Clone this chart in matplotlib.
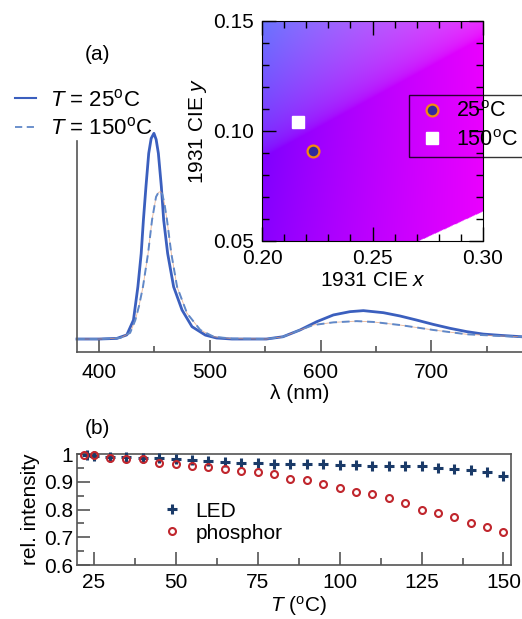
import numpy as np
import matplotlib
matplotlib.use('Agg')
import matplotlib.pyplot as plt
from matplotlib.ticker import MultipleLocator
from matplotlib.lines import Line2D

plt.rcParams['font.family'] = ['Liberation Sans', 'DejaVu Sans']
plt.rcParams['mathtext.fontset'] = 'custom'
plt.rcParams['mathtext.rm'] = 'Liberation Sans'
plt.rcParams['mathtext.it'] = 'Liberation Sans:italic'
plt.rcParams['font.size'] = 15

# ---- spectra (arb. units, peak of 25C = 1)
wl_25 = [380, 400, 416, 425, 431, 435, 438, 440, 442.3, 444.8, 447, 449.5, 451.5,
         453.5, 456.2, 458.3, 461.9, 467.3, 474.9, 483.9, 496, 506, 520, 551, 566,
         581.5, 596.5, 611.6, 626.6, 638.7, 656.8, 671.8, 686.9, 701.9, 717, 732,
         747, 762, 782]
int_25 = [0.0, 0.0, 0.003, 0.02, 0.092, 0.254, 0.416, 0.579, 0.741, 0.903, 0.975, 1.0,
          0.97, 0.903, 0.741, 0.579, 0.416, 0.254, 0.141, 0.060, 0.019, 0.005, 0.0,
          0.0, 0.011, 0.044, 0.084, 0.117, 0.133, 0.138, 0.128, 0.112, 0.092, 0.071,
          0.052, 0.036, 0.024, 0.018, 0.011]
wl_150 = [380, 400, 419, 428, 432.7, 436, 439.6, 444.2, 447.8, 451.4, 453.5, 455.3,
          457, 458.9, 461.3, 465.2, 470.4, 479.4, 491.4, 503.5, 520, 551, 566, 581.5,
          593.5, 611.6, 632.7, 647.7, 671.8, 701.9, 732, 762, 782]
int_150 = [0.0, 0.0, 0.005, 0.03, 0.092, 0.16, 0.254, 0.416, 0.579, 0.691, 0.712,
           0.717, 0.705, 0.661, 0.579, 0.416, 0.254, 0.125, 0.044, 0.011, 0.002, 0.0,
           0.011, 0.044, 0.068, 0.081, 0.087, 0.083, 0.068, 0.044, 0.023, 0.015, 0.011]

# ---- chromaticity points
cie_25 = (0.2229, 0.0910)
cie_150 = (0.2161, 0.1040)

# ---- relative intensity vs temperature
T_led = [23, 25] + list(range(30, 155, 5))
led = [0.995, 0.993, 0.990, 0.988, 0.987, 0.985, 0.981, 0.977, 0.975, 0.973, 0.969,
       0.966, 0.964, 0.963, 0.963, 0.963, 0.960, 0.960, 0.958, 0.958, 0.958, 0.956,
       0.951, 0.946, 0.942, 0.936, 0.922]
T_ph = [22, 25] + list(range(30, 155, 5))
phosphor = [0.997, 0.995, 0.985, 0.982, 0.982, 0.969, 0.965, 0.958, 0.953, 0.947,
            0.940, 0.935, 0.929, 0.911, 0.905, 0.893, 0.877, 0.862, 0.855, 0.841,
            0.822, 0.799, 0.786, 0.772, 0.751, 0.738, 0.720]

c_solid = '#3b5fbe'
c_dash = '#6088c8'
spine_c = '#555555'

fig = plt.figure(figsize=(5.22, 6.19), dpi=100)

# ================= (a) spectra
ax = fig.add_axes([0.1475, 0.4313, 0.8525, 0.3633])
ax.plot(wl_25, int_25, color=c_solid, lw=2.0, clip_on=False)
ax.plot(wl_150, int_150, color='#e4a27c', lw=0.6, alpha=0.8, clip_on=False)
ax.plot(wl_150, int_150, color=c_dash, lw=1.4, dashes=(4, 2.5), clip_on=False)
ax.set_xlim(380, 782)
ax.set_ylim(-0.0632, 1.03)
for s in ['top', 'right']:
    ax.spines[s].set_visible(False)
for s in ['left', 'bottom']:
    ax.spines[s].set_color(spine_c)
    ax.spines[s].set_linewidth(1.2)
ax.spines['left'].set_bounds(-0.0632, 0.9626)
ax.set_yticks([])
ax.xaxis.set_major_locator(MultipleLocator(100))
ax.xaxis.set_minor_locator(MultipleLocator(50))
ax.tick_params(axis='x', which='major', direction='in', length=8.6, width=1.2,
               color=spine_c, pad=8)
ax.tick_params(axis='x', which='minor', direction='in', length=4.3, width=1.2,
               color=spine_c)
ax.set_xlabel('λ (nm)', labelpad=1)

leg_h = [Line2D([], [], color=c_solid, lw=1.5),
         Line2D([], [], color=c_dash, lw=1.3, dashes=(4, 2.5))]
fig.legend(leg_h, [r'$T$ = 25$^{\rm o}$C', r'$T$ = 150$^{\rm o}$C'],
           loc='upper left', bbox_to_anchor=(0.008, 0.874), frameon=False,
           handlelength=0.95, handletextpad=0.6, labelspacing=0.3, borderpad=0,
           fontsize=16)
fig.text(0.186, 0.912, '(a)', ha='center', va='center')

# ================= inset: CIE diagram
axi = fig.add_axes([0.502, 0.6107, 0.4234, 0.3554])
gx = np.linspace(0.2, 0.3, 300)
gy = np.linspace(0.05, 0.15, 300)
X, Y = np.meshgrid(gx, gy)
XYZ = np.stack([X / Y, np.ones_like(X), (1 - X - Y) / Y], axis=-1)
M = np.array([[3.2406, -1.5372, -0.4986],
              [-0.9689, 1.8758, 0.0415],
              [0.0557, -0.2040, 1.0570]])
rgb = XYZ @ M.T
rgb = np.clip(rgb, 0, None)
rgb = rgb / rgb.max(axis=-1, keepdims=True)
rgb = np.where(rgb <= 0.0031308, 12.92 * rgb, 1.055 * rgb ** (1 / 2.4) - 0.055)
# purple line of the spectral locus (380 nm to 780 nm)
line_y = 0.00496 + (X - 0.17411) * (0.26531 - 0.00496) / (0.73469 - 0.17411)
alpha = (Y >= line_y).astype(float)
img = np.dstack([rgb, alpha])
axi.imshow(img, origin='lower', extent=[0.2, 0.3, 0.05, 0.15], aspect='auto',
           interpolation='bilinear')
axi.plot(*cie_25, 'o', ms=8.5, mfc='#2f2a9c', mec='#f28c0f', mew=1.6,
         label=r'25$^{\rm o}$C')
axi.plot(*cie_150, 's', ms=8, mfc='white', mec='white', label=r'150$^{\rm o}$C')
axi.set_xlim(0.2, 0.3)
axi.set_ylim(0.05, 0.15)
axi.set_xticks([0.20, 0.25, 0.30])
axi.set_xticklabels(['0.20', '0.25', '0.30'])
axi.set_yticks([0.05, 0.10, 0.15])
axi.set_yticklabels(['0.05', '0.10', '0.15'])
axi.xaxis.set_minor_locator(MultipleLocator(0.01))
axi.yaxis.set_minor_locator(MultipleLocator(0.01))
axi.tick_params(which='both', direction='in', top=True, right=True, width=1)
axi.tick_params(which='major', length=10, pad=6)
axi.tick_params(which='minor', length=5)
axi.set_xlabel(r'1931 CIE $x$', labelpad=2)
axi.set_ylabel(r'1931 CIE $y$', labelpad=3)
lg = axi.legend(loc='upper left', bbox_to_anchor=(0.665, 0.664), borderaxespad=0,
                fancybox=False, edgecolor='black', handlelength=1.5,
                handletextpad=0.4, borderpad=0.3, labelspacing=0.35, fontsize=15.5)
lg.get_frame().set_facecolor('none')
lg.get_frame().set_linewidth(1.0)
lg.set_clip_on(False)

# ================= (b) relative intensity
axb = fig.add_axes([0.1475, 0.0872, 0.8315, 0.1793])
axb.plot(T_led, led, '+', ms=7, mew=2.2, color='#1a3a68', label='LED',
         clip_on=False, zorder=3)
axb.plot(T_ph, phosphor, 'o', ms=5, mew=1.5, mfc='none', mec='#c0262d',
         label='phosphor', clip_on=False, zorder=3)
axb.set_xlim(19.9, 152.3)
axb.set_ylim(0.6, 1.0)
axb.xaxis.set_major_locator(MultipleLocator(25))
axb.xaxis.set_minor_locator(MultipleLocator(12.5))
axb.set_yticks([0.6, 0.7, 0.8, 0.9, 1.0])
axb.set_yticklabels(['0.6', '0.7', '0.8', '0.9', '1'])
axb.yaxis.set_minor_locator(MultipleLocator(0.05))
for s in axb.spines.values():
    s.set_color(spine_c)
    s.set_linewidth(1.2)
axb.tick_params(which='both', direction='in', color=spine_c, width=1.2)
axb.tick_params(which='major', length=9.5)
axb.tick_params(axis='x', which='major', pad=6)
axb.tick_params(axis='y', which='major', pad=3)
axb.tick_params(which='minor', length=5)
axb.set_xlabel(r'$T$ ($^{\rm o}$C)', labelpad=0)
axb.xaxis.set_label_coords(0.51, -0.26)
axb.set_ylabel('rel. intensity', labelpad=3)
axb.legend(loc='upper left', bbox_to_anchor=(0.18, 0.665), frameon=False,
           handlelength=0.6, handletextpad=0.85, labelspacing=0.15, borderpad=0)
fig.text(0.186, 0.308, '(b)', ha='center', va='center')

fig.savefig('out.png', dpi=100)
